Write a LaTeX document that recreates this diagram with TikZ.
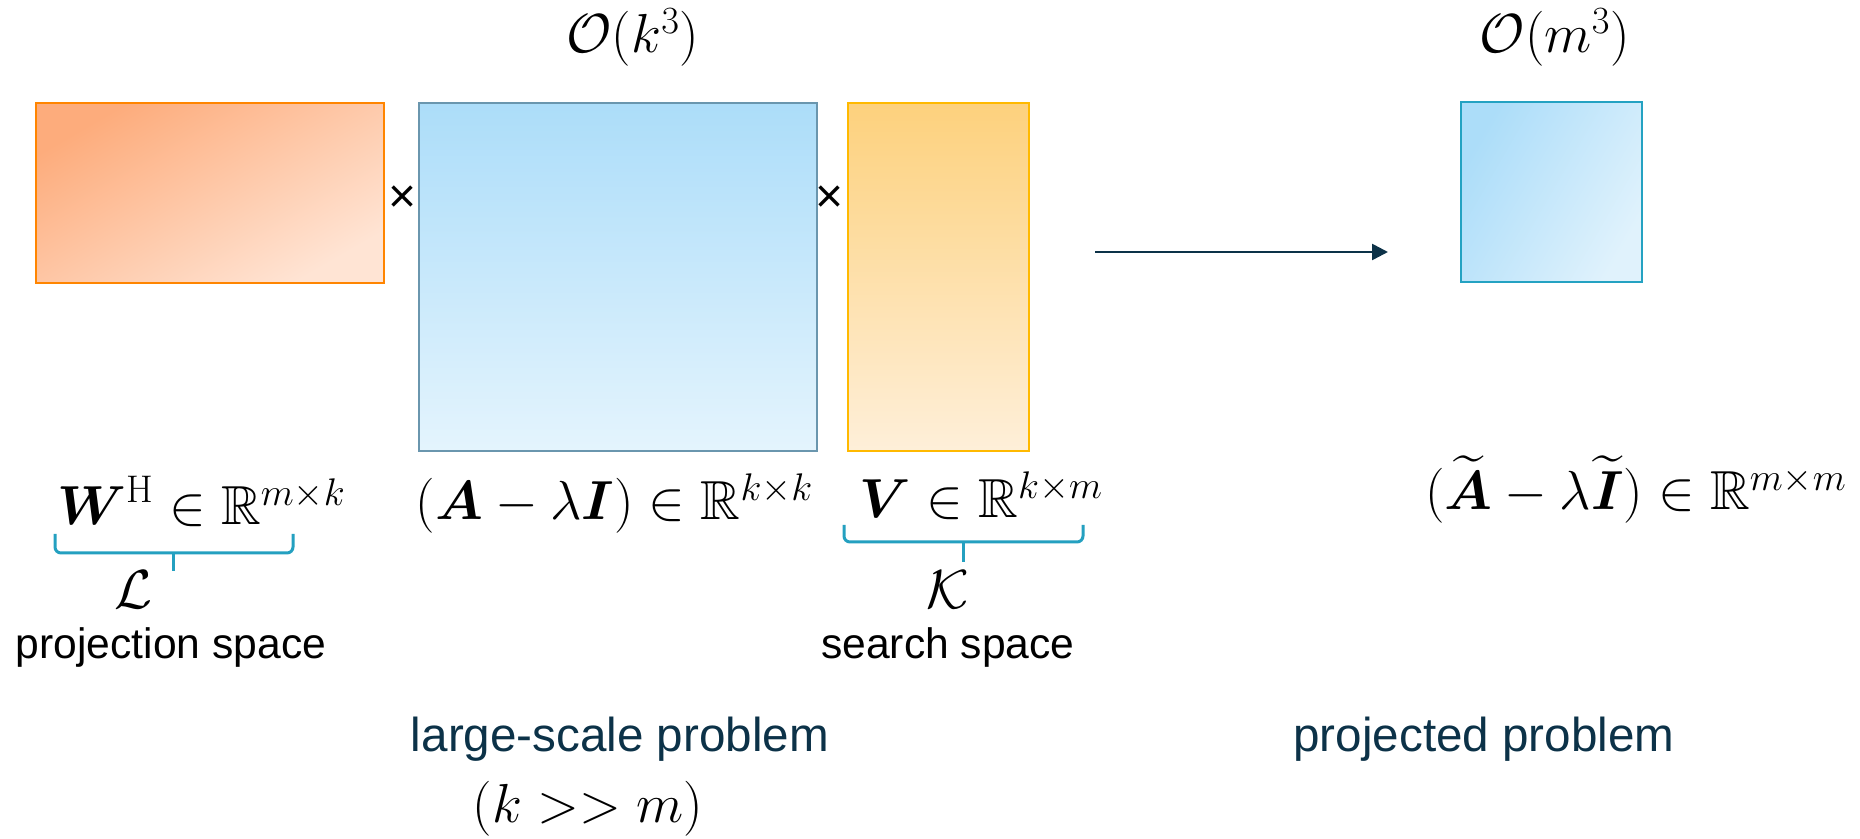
\RequirePackage{fix-cm}
\documentclass[tikz,border=0pt]{standalone}
\usepackage{amsmath,amssymb}
\DeclareFontFamily{U}{msb}{}
\DeclareFontShape{U}{msb}{m}{n}{<-> msbm10}{}
\usepackage[no-math]{fontspec}
\newfontfamily\arial{Liberation Sans}
\usetikzlibrary{arrows.meta}
\definecolor{navy}{RGB}{12,50,72}
\definecolor{brteal}{RGB}{36,160,192}
\definecolor{orA}{RGB}{253,172,124}
\definecolor{orB}{RGB}{255,228,212}
\definecolor{orL}{RGB}{255,133,0}
\definecolor{blA}{RGB}{172,221,249}
\definecolor{blB}{RGB}{228,244,253}
\definecolor{blL}{RGB}{106,150,174}
\definecolor{yeA}{RGB}{253,209,125}
\definecolor{yeB}{RGB}{254,239,217}
\definecolor{yeL}{RGB}{255,185,0}
\definecolor{sbA}{RGB}{172,221,249}
\definecolor{sbB}{RGB}{224,242,252}
\definecolor{sbL}{RGB}{36,162,194}
\tikzset{
  mbox/.style={draw, line width=1.3pt, inner sep=0pt},
  mlbl/.style={font=\fontsize{27.5}{33}\selectfont, inner sep=0pt, anchor=base},
  blk/.style={font=\arial\fontsize{21.3}{25}\selectfont, inner sep=0pt, anchor=base},
  tms/.style={font=\arial\fontsize{24}{28}\selectfont, inner sep=0pt, anchor=base},
  nvy/.style={font=\arial\fontsize{23.8}{28}\selectfont, text=navy, inner sep=0pt, anchor=base},
  brc/.style={draw=brteal, line width=1.5pt, rounded corners=3pt},
  tip/.style={draw=brteal, line width=1.5pt}
}
\begin{document}
\begin{tikzpicture}[x=0.5pt,y=-0.5pt]
\useasboundingbox (0,0) rectangle (1860,839);
% matrices
\node[mbox, draw=orL, top color=orA, bottom color=orB, shading angle=30,
      minimum width=174pt, minimum height=90pt] (W) at (210,193) {};
\node[mbox, draw=blL, top color=blA, bottom color=blB,
      minimum width=199pt, minimum height=174pt] (A) at (618,277) {};
\node[mbox, draw=yeL, top color=yeA, bottom color=yeB,
      minimum width=90.5pt, minimum height=174pt] (V) at (938.5,277) {};
\node[mbox, draw=sbL, top color=sbA, bottom color=sbB, shading angle=60,
      minimum width=90.5pt, minimum height=90pt] (At) at (1551.5,192) {};
% times signs
\node[tms] (x1) at (403,213) {×};
\node[tms] (x2) at (830,213) {×};
% complexity
\node[mlbl] (Ok) at (633,53) {$\mathcal{O}(k^3)$};
\node[mlbl] (Om) at (1555,53) {$\mathcal{O}(m^3)$};
% arrow
\coordinate (p0) at (1095,252);
\coordinate (p1) at (1388,252);
\draw[-{Triangle[length=8pt,width=8pt]}, line width=1.3pt, navy] (p0) -- (p1);
% formulas
\node[mlbl] (fW) at (201.5,525) {$\boldsymbol{W}^{\mathrm{H}} \in \mathbb{R}^{m\times k}$};
\node[mlbl] (fA) at (614.5,520) {$(\boldsymbol{A}-\lambda\boldsymbol{I}) \in \mathbb{R}^{k\times k}$};
\node[mlbl] (fV) at (981.5,518) {$\boldsymbol{V} \in \mathbb{R}^{k\times m}$};
\node[mlbl] (fAt) at (1636,510) {$(\widetilde{\boldsymbol{A}}-\lambda\widetilde{\boldsymbol{I}}) \in \mathbb{R}^{m\times m}$};
% braces
\draw[brc] (55,534) -- (55,553) -- (293,553) -- (293,534);
\draw[tip] (173,553) -- (173,571);
\draw[brc] (844,525) -- (844,542) -- (1083,542) -- (1083,525);
\draw[tip] (963,542) -- (963,562);
\node[mlbl] (L) at (133,609) {$\mathcal{L}$};
\node[mlbl] (K) at (948,609) {$\mathcal{K}$};
\node[blk] (ps) at (171,659) {projection space};
\node[blk] (ss) at (948,659) {search space};
% captions
\node[nvy] (lsp) at (620,752) {large-scale problem};
\node[nvy] (pp) at (1484,752) {projected problem};
\node[mlbl] (km) at (588,822) {$(k >> m)$};
\end{tikzpicture}
\end{document}
